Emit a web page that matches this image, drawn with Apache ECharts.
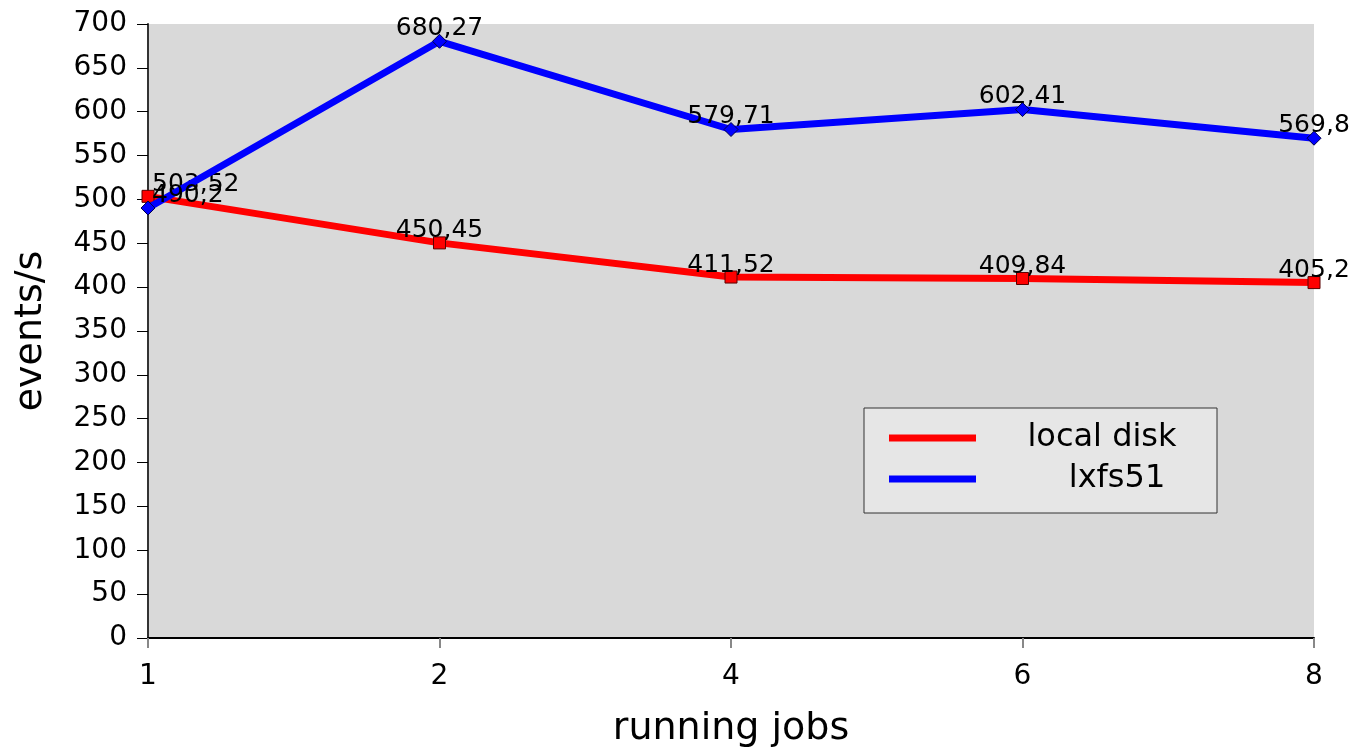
<!DOCTYPE html>
<html>
<head>
<meta charset="utf-8">
<script src="https://cdn.jsdelivr.net/npm/echarts@6/dist/echarts.min.js"></script>
<style>html,body{margin:0;padding:0;background:#fff}#c{width:1349px;height:748px}</style>
</head>
<body>
<div id="c"></div>
<script>
var categories = ['1', '2', '4', '6', '8'];
var localDisk = [503.52, 450.45, 411.52, 409.84, 405.2];
var lxfs51 = [490.2, 680.27, 579.71, 602.41, 569.8];
var yTicks = {min: 0, max: 700, interval: 50};

var FONT = 'DejaVu Sans';
function fmt(p) { return String(p.value).replace('.', ','); }
function mkData(arr) {
  return arr.map(function (v, i) {
    var d = {value: v};
    if (i === 0) d.label = {align: 'left', offset: [4, 0]};
    return d;
  });
}
var chart = echarts.init(document.getElementById('c'), null, {renderer: 'canvas'});
chart.setOption({
  animation: false,
  backgroundColor: '#ffffff',
  textStyle: {fontFamily: FONT},
  grid: {left: 148, right: 35, top: 24, bottom: 110, show: true, backgroundColor: '#d9d9d9', borderWidth: 0, outerBoundsMode: 'none', containLabel: false},
  legend: {
    left: 864, top: 408,
    orient: 'vertical',
    backgroundColor: '#e6e6e6',
    borderColor: '#333333', borderWidth: 1,
    padding: [14, 0, 18, 25],
    itemWidth: 87, itemHeight: 7, itemGap: 9,
    icon: 'rect',
    formatter: function (name) { return (name === 'lxfs51' ? '{b|' : '{a|') + name + '}'; },
    textStyle: {
      fontFamily: FONT, fontSize: 32, color: '#000',
      rich: {
        a: {fontFamily: FONT, fontSize: 32, color: '#000', width: 200, align: 'center', padding: [0, 15, 0, 21], lineHeight: 32},
        b: {fontFamily: FONT, fontSize: 32, color: '#000', width: 200, align: 'center', padding: [0, 0, 0, 36], lineHeight: 32}
      }
    },
    data: [
      {name: 'local disk', itemStyle: {color: '#ff0000', borderWidth: 0}},
      {name: 'lxfs51', itemStyle: {color: '#0000ff', borderWidth: 0}}
    ]
  },
  xAxis: {
    type: 'category', data: categories, boundaryGap: false,
    name: 'running jobs', nameLocation: 'middle', nameGap: 72,
    nameTextStyle: {fontFamily: FONT, fontSize: 38, color: '#000'},
    axisLine: {lineStyle: {color: '#000', width: 2}},
    axisTick: {show: true, length: 10, lineStyle: {color: '#888', width: 2}, alignWithLabel: true},
    axisLabel: {fontFamily: FONT, fontSize: 28, color: '#000', margin: 25},
    splitLine: {show: false}
  },
  yAxis: {
    type: 'value', min: yTicks.min, max: yTicks.max, interval: yTicks.interval,
    name: 'events/s', nameLocation: 'middle', nameGap: 98, nameRotate: 90,
    nameTextStyle: {fontFamily: FONT, fontSize: 38, color: '#000'},
    axisLine: {show: true, lineStyle: {color: '#333', width: 2}},
    axisTick: {show: true, length: 11, lineStyle: {color: '#000', width: 1}},
    axisLabel: {fontFamily: FONT, fontSize: 28, color: '#000', margin: 21},
    splitLine: {show: false}
  },
  series: [
    {
      name: 'local disk', type: 'line', data: mkData(localDisk),
      lineStyle: {color: '#ff0000', width: 7},
      itemStyle: {color: '#ff0000', borderColor: '#5a0000', borderWidth: 1},
      symbol: 'rect', symbolSize: 12, showAllSymbol: true,
      label: {show: true, position: 'top', distance: -7, formatter: fmt, fontFamily: FONT, fontSize: 25, color: '#000'},
      z: 2
    },
    {
      name: 'lxfs51', type: 'line', data: mkData(lxfs51),
      lineStyle: {color: '#0000ff', width: 7},
      itemStyle: {color: '#0000ff', borderColor: '#00004a', borderWidth: 1},
      symbol: 'diamond', symbolSize: 14, showAllSymbol: true,
      label: {show: true, position: 'top', distance: -7, formatter: fmt, fontFamily: FONT, fontSize: 25, color: '#000'},
      z: 3
    }
  ]
});
</script>
</body>
</html>
